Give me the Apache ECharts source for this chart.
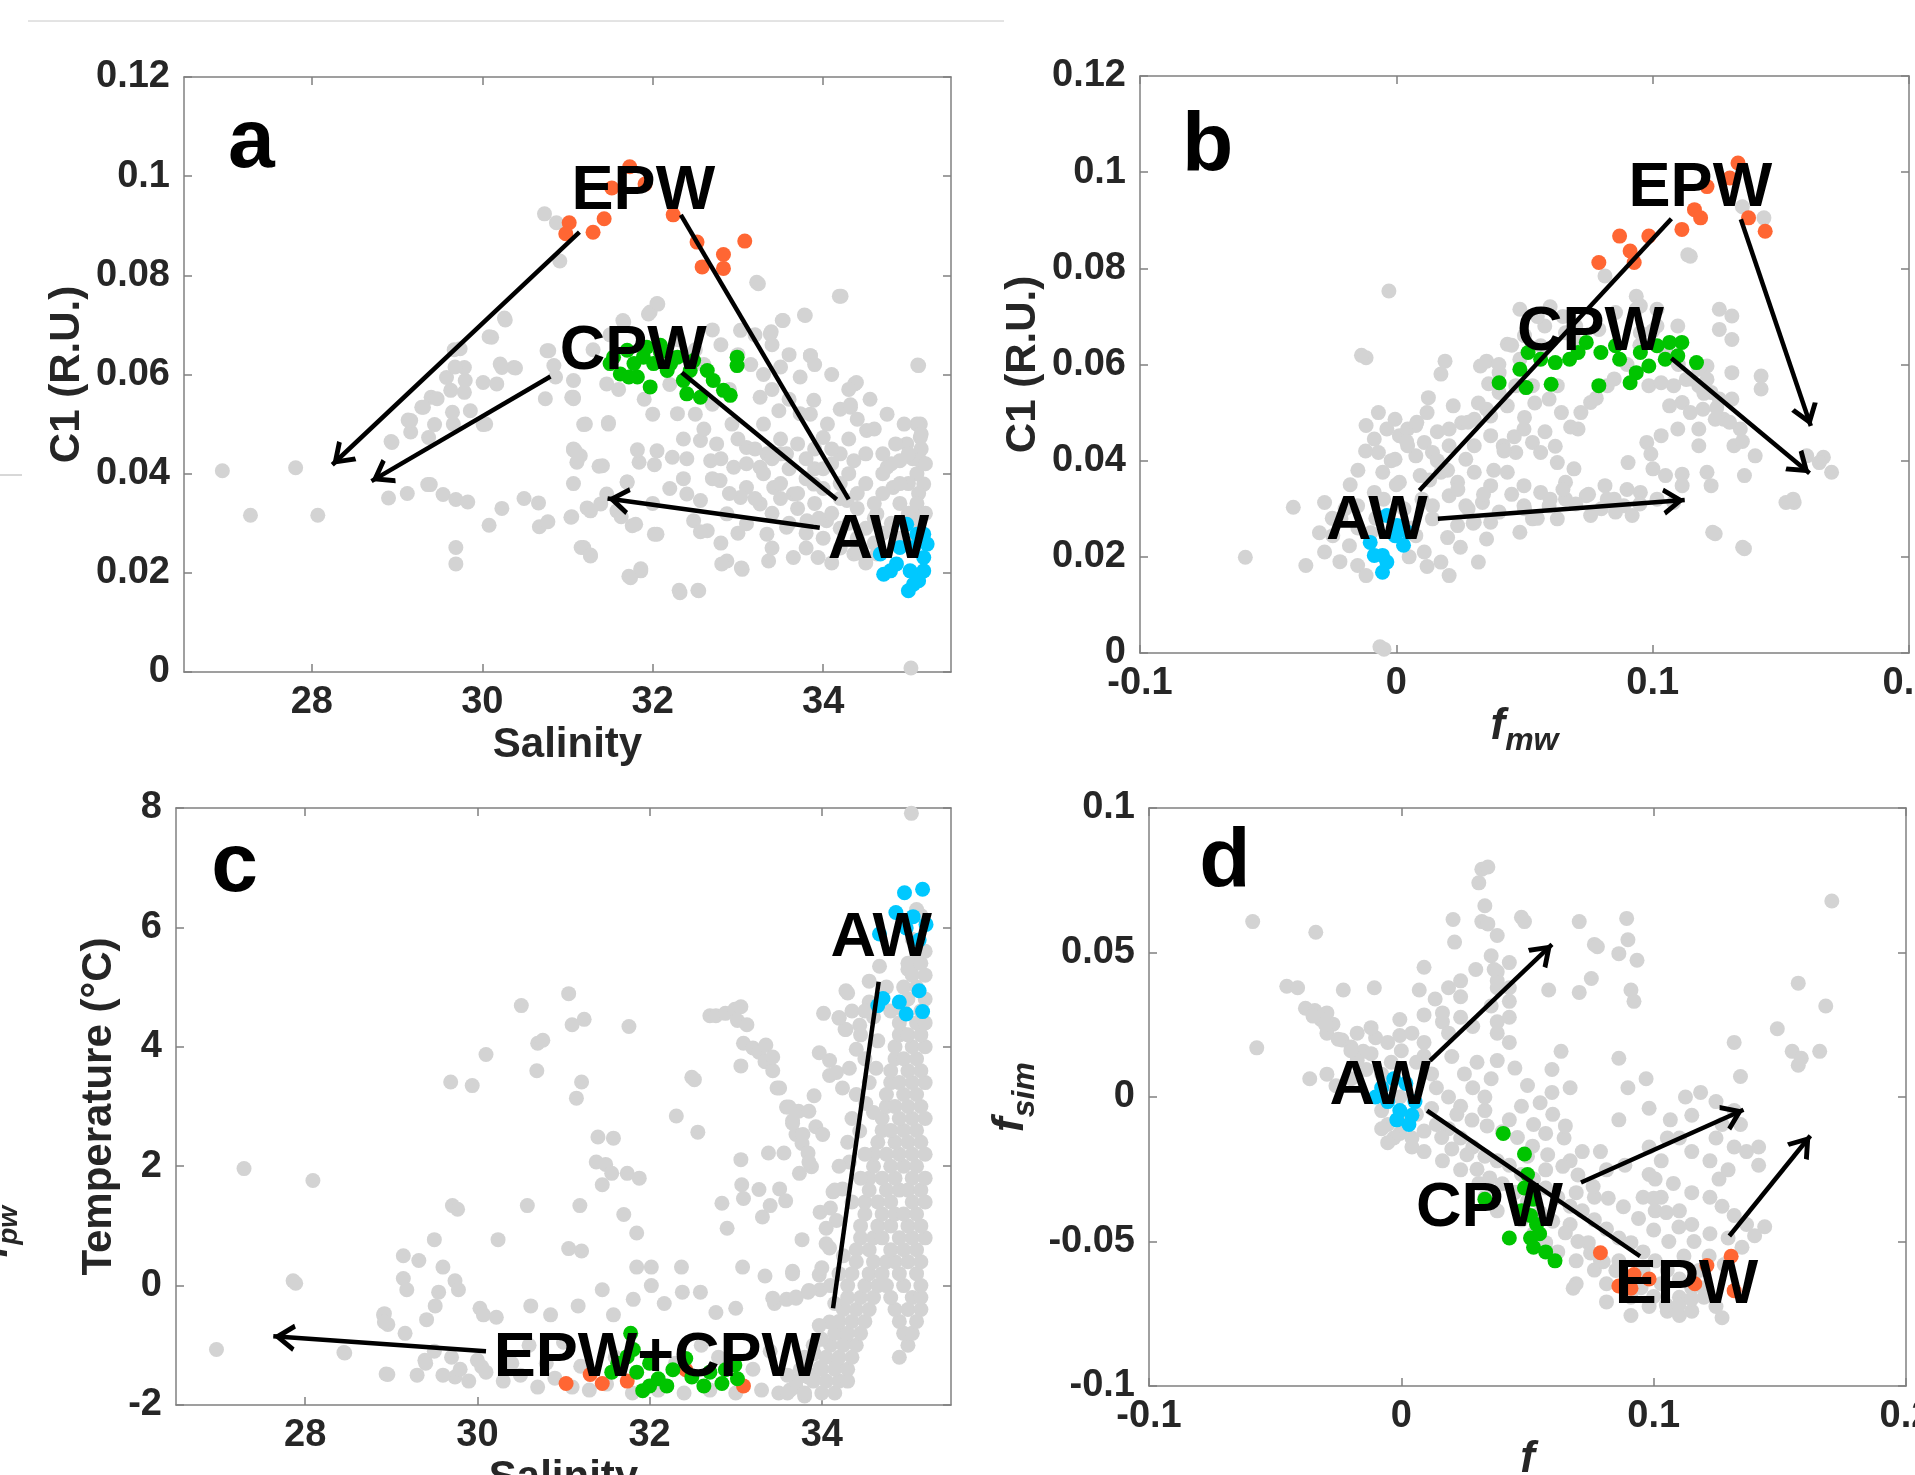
<!DOCTYPE html>
<html><head><meta charset="utf-8">
<script src="https://cdn.jsdelivr.net/npm/echarts@6.0.0/dist/echarts.min.js"></script>
<style>html,body{margin:0;padding:0;background:#fff}#c{width:1915px;height:1475px}</style>
</head><body><div id="c"></div>
<script>
// ---------------- DATA ----------------
// Panel a: Salinity vs C1
const aXTicks = [28, 30, 32, 34];
const aYTicks = [0, 0.02, 0.04, 0.06, 0.08, 0.1, 0.12];
const aGray = [[33.24,0.0783],[34.21,0.0758],[32.05,0.0743],[31.97,0.0726],[33.79,0.0719],[33.52,0.0709],[31.66,0.0706],[33.38,0.0682],[33.03,0.0689],[35.12,0.0618],[33.85,0.0638],[34.37,0.0581],[33.73,0.0595],[33.5,0.0615],[31.07,0.0588],[31.07,0.0554],[31.46,0.0581],[33.26,0.0554],[33.48,0.0527],[34.32,0.0534],[33.89,0.0548],[33.73,0.0521],[32.29,0.0521],[31.21,0.05],[31.48,0.05],[32.93,0.05],[35.14,0.05],[34.51,0.0487],[34.0,0.0473],[35.14,0.0473],[32.36,0.047],[32.56,0.0467],[32.75,0.046],[34.98,0.046],[31.07,0.045],[33.1,0.0453],[33.34,0.044],[33.57,0.044],[34.2,0.044],[32.05,0.0446],[32.23,0.0433],[31.15,0.0436],[32.68,0.0426],[32.95,0.0413],[33.26,0.0413],[34.36,0.0426],[34.9,0.0426],[35.14,0.0426],[31.84,0.0423],[31.41,0.0416],[34.75,0.0413],[32.36,0.039],[31.07,0.038],[31.7,0.0383],[32.79,0.0386],[33.1,0.0372],[33.42,0.0372],[33.65,0.0359],[33.89,0.0379],[34.82,0.0372],[35.18,0.0379],[32.4,0.0359],[32.56,0.0346],[31.46,0.0359],[31.39,0.0339],[33.03,0.0352],[33.26,0.0339],[34.28,0.0346],[31.04,0.0312],[31.27,0.0325],[31.58,0.0325],[31.76,0.0295],[32.05,0.0278],[32.48,0.0305],[32.64,0.0285],[32.87,0.0319],[33.1,0.0299],[33.34,0.0278],[33.57,0.0292],[33.81,0.0305],[34.04,0.0305],[34.63,0.0319],[35.06,0.0319],[31.19,0.0251],[31.27,0.0234],[32.87,0.0224],[33.05,0.0207],[33.36,0.0224],[33.65,0.0231],[33.94,0.0231],[31.86,0.0204],[31.74,0.019],[32.32,0.016],[32.54,0.0164],[34.36,0.0238],[34.63,0.0238],
[33.2,0.045],[33.4,0.043],[33.6,0.041],[33.8,0.039],[34.0,0.037],[34.2,0.035],[34.4,0.033],[34.6,0.031],[34.8,0.03],[33.0,0.047],[33.5,0.047],[33.9,0.045],[34.1,0.042],[34.3,0.04],[34.5,0.038],[34.7,0.036],[34.9,0.034],[35.0,0.032],[35.1,0.03],[34.4,0.027],[34.6,0.026],[34.2,0.029],[33.95,0.031],[33.7,0.033],[33.5,0.035],[35.15,0.045],[35.1,0.04],[35.0,0.038],[34.8,0.042],[34.85,0.046],[34.7,0.044],[34.6,0.049],[34.4,0.051],[34.2,0.053],[34.05,0.05],[33.85,0.052],[33.6,0.055],[33.4,0.057],[33.3,0.06],[33.15,0.062],[33.0,0.064],[32.8,0.066],[32.7,0.069],[35.1,0.05],[35.15,0.048],[35.05,0.043],[35.12,0.036],[35.1,0.027],[35.05,0.025],[35.03,0.0008],
[26.95,0.0406],[27.28,0.0316],[27.81,0.0412],[28.07,0.0316],[28.9,0.0351],[29.12,0.036],[28.93,0.0465],[29.39,0.0378],[30.73,0.0924],[30.87,0.0906],[30.91,0.0829],[33.22,0.0786],[34.19,0.0758],[33.78,0.072],[32.06,0.0742],[31.95,0.0722],[31.65,0.0709],[33.53,0.0709],[33.39,0.0686],[33.85,0.0638],[35.11,0.0619],[34.39,0.0584],[34.32,0.0539],[30.26,0.0714],[30.08,0.0676],[29.67,0.065],[29.79,0.0614],[29.58,0.0594],[29.4,0.0554],[29.29,0.0534],[29.13,0.0508],[29.16,0.0484],[29.44,0.0499],[29.65,0.0524],[29.79,0.0564],[30.01,0.0584],[30.23,0.0614],[30.37,0.0614],[30.01,0.0499],[30.76,0.0648],[30.84,0.0618],[31.05,0.0554],[31.19,0.0499],[31.48,0.0503],[31.07,0.0448],[31.11,0.0423],[31.37,0.0415],[31.82,0.0448],[32.02,0.0418],[29.36,0.0378],[29.54,0.0358],[29.69,0.0348],[29.83,0.0343],[30.49,0.035],[30.66,0.0341],[30.23,0.033],[30.08,0.0296],[31.05,0.0313],[31.23,0.0331],[30.67,0.0293],[30.77,0.0303],[29.69,0.0251],[29.69,0.0218],[31.16,0.0251],[31.27,0.0236],[31.63,0.0313],[31.7,0.0383],[31.86,0.0208],[31.72,0.0193],[32.31,0.0165],[32.53,0.0165],[32.02,0.0278],[31.8,0.0298],[32.56,0.0283],[32.81,0.0218],[33.04,0.021],
[30.27,0.071],[30.11,0.0675],[29.74,0.0652],[29.68,0.0615],[30.21,0.0621],[30.39,0.0613],[30.17,0.0581],[29.8,0.0588],[29.63,0.0568],[29.47,0.0551],[29.31,0.0534],[29.16,0.0507],[29.37,0.0473],[29.66,0.05],[29.86,0.0527],[30.04,0.05],[30.78,0.0648],[30.86,0.0595],[30.74,0.0551],[31.07,0.0551],[28.94,0.0463],[31.09,0.0446],
[31.3,0.065],[31.5,0.068],[32.3,0.067],[32.5,0.065],[32.6,0.062],[32.2,0.058],[31.9,0.055],[31.6,0.057],[32.0,0.052],[32.5,0.052],
[33.1,0.042],[33.3,0.04],[33.5,0.038],[33.7,0.036],[33.9,0.034],[34.1,0.032],[34.3,0.03],[34.5,0.029],[34.7,0.028],[34.9,0.027],[33.2,0.035],[33.4,0.032],[33.6,0.03],[33.8,0.028],[34.0,0.027],[34.2,0.025],[34.4,0.024],[33.3,0.05],[33.5,0.044],[33.7,0.046],[33.9,0.041],[34.1,0.045],[34.3,0.047],[34.5,0.044],[34.7,0.04],[34.9,0.038],[35.0,0.044],[34.6,0.034],[34.4,0.036],[34.2,0.038],[34.0,0.041],[33.8,0.043],[35.1,0.034],[35.2,0.032],[35.2,0.042],[34.95,0.05],[34.75,0.052],[34.55,0.055],[34.3,0.057],[34.1,0.06],[33.9,0.062],[33.6,0.064],[33.4,0.066],[33.2,0.068],[32.9,0.057],[32.7,0.054],[32.6,0.049],[32.8,0.043],[32.4,0.043],[32.2,0.037],[32.0,0.034],[32.9,0.036],[32.7,0.039],[33.0,0.028],[32.8,0.026],[33.4,0.025],[33.8,0.025],[34.1,0.022],[34.5,0.022]];
const aOrange = [[31.73,0.1019],[31.52,0.0976],[31.91,0.0984],[31.02,0.0906],[30.98,0.0884],[31.3,0.0887],[31.43,0.0914],[32.24,0.0922],[32.52,0.0867],[32.83,0.0842],[32.83,0.0814],[32.58,0.0817],[33.08,0.0869]];
const aGreen = [[31.5,0.0622],[31.7,0.0649],[31.89,0.0635],[32.09,0.0645],[32.29,0.0635],[32.48,0.0628],[31.62,0.0601],[31.82,0.0595],[31.97,0.0575],[32.36,0.0588],[32.4,0.0561],[32.56,0.0554],[32.71,0.0588],[32.83,0.0568],[32.91,0.0558],[32.99,0.0635],[32.99,0.0618],[32.64,0.0608],[32.17,0.0608],[31.54,0.0635],[31.78,0.0622],[32.01,0.0622],[32.21,0.0622],[32.44,0.0608],[31.72,0.0595],[31.93,0.0655],[32.09,0.0659]];
const aCyan = [[34.98,0.0298],[35.18,0.0278],[35.22,0.0258],[35.18,0.0231],[35.18,0.0204],[35.02,0.0204],[35.0,0.0164],[35.06,0.0177],[34.86,0.0218],[34.71,0.0197],[34.67,0.0238],[34.9,0.0251],[35.06,0.0251],[35.1,0.0278],[34.79,0.0204],[35.12,0.0184]];
const aLabels = [['a',27.29,0.1065,84],['EPW',31.89,0.0968,63],['CPW',31.77,0.0646,63],['AW',34.65,0.0265,63]];
const aArrows = [[31.14,0.0887,28.24,0.0418,1],[30.8,0.0596,28.7,0.0385,1],[33.96,0.0291,31.47,0.035,1],[32.33,0.0922,34.3,0.0348,0],[32.34,0.0604,34.16,0.0348,0]];

// Panel b: f_mw vs C1
const bXTicks = [-0.1, 0, 0.1, 0.2];
const bYTicks = [0, 0.02, 0.04, 0.06, 0.08, 0.1, 0.12];
const bGray = [[-0.0029,0.0753],[-0.0118,0.0614],[0.019,0.0607],[0.0174,0.058],[0.0125,0.0531],[0.0328,0.0597],[0.0352,0.0607],[0.0433,0.0642],[0.0482,0.0715],[0.0222,0.0514],[0.0255,0.0479],[0.0352,0.0507],[0.0401,0.0542],[0.0531,0.0556],[0.0596,0.0528],[0.0644,0.05],[0.0628,0.0556],[0.0758,0.0521],[0.0823,0.0556],[0.0709,0.0466],[0.0936,0.0742],[0.0952,0.0722],[0.1017,0.0715],[0.1098,0.068],[0.1147,0.0825],[0.0814,0.0784],[0.126,0.0715],[0.1309,0.0701],[0.126,0.0673],[0.1309,0.0652],[0.1309,0.0583],[0.1423,0.0576],[0.1423,0.0549],[0.1212,0.0597],[0.118,0.0556],[0.126,0.0528],[0.118,0.0466],[0.1309,0.0528],[0.1342,0.0466],[0.1277,0.0486],[0.1082,0.0556],[0.1066,0.0514],[0.0985,0.0556],[0.1115,0.0521],[0.1147,0.05],[0.1033,0.0452],[0.0977,0.0438],[0.0993,0.0414],[0.0904,0.0396],[0.1001,0.0383],[0.105,0.0369],[0.1115,0.0372],[0.1212,0.0376],[0.1228,0.0348],[0.1358,0.0369],[0.1317,0.0431],[0.1601,0.041],[0.1666,0.0407],[0.1698,0.0376],[0.165,0.0396],[0.1552,0.0313],[0.152,0.0313],[0.1244,0.0248],[0.1358,0.0217],[0.0952,0.0334],[0.0887,0.0306],[0.0814,0.0348],[0.0741,0.0327],[0.066,0.0355],[0.0628,0.0396],[0.0693,0.0383],[0.0758,0.0286],[0.0628,0.0279],[0.0482,0.0251],[0.0352,0.0237],[0.032,0.0189],[0.0206,0.0161],[-0.0353,0.0182],[-0.0589,0.0199],[-0.0402,0.0303],[-0.028,0.0313],[-0.007,0.05],[-0.0037,0.0466],[0.0012,0.0452],[0.0044,0.0466],[0.0109,0.0438],[-0.007,0.0417],[-0.0005,0.0403],[0.0076,0.041],[0.0141,0.0417],[0.0206,0.0431],[0.0271,0.0403],[0.0304,0.0431],[0.0368,0.0452],[0.0417,0.0431],[0.0466,0.0417],[0.0531,0.0438],[0.0498,0.0466],[0.0563,0.0417],[-0.0053,0.0376],[0.0012,0.0355],[0.0093,0.0369],[0.0174,0.0376],[0.0239,0.0355],[0.0304,0.0376],[0.0368,0.0348],[0.0433,0.0376],[0.0498,0.0348],[0.0563,0.0334],[0.0206,0.0327],[0.0141,0.0306],[0.0271,0.0306],[0.0336,0.0313],[0.0401,0.0293],[0.0498,0.0306],[-0.0086,0.0334],[-0.0151,0.0306],[-0.0216,0.0279],[-0.0248,0.0244],[-0.0183,0.0223],[-0.0151,0.0182],[-0.0118,0.0161],[0.0076,0.0244],[0.0141,0.0279],[0.0109,0.021],[0.0239,0.0265],[0.0304,0.0272],[0.0174,0.0189],[0.0368,0.0272],[0.0531,0.0279],[0.0596,0.0306],[0.066,0.032],[0.0823,0.032],[0.0855,0.0293],[0.092,0.0286],[0.1017,0.032],[0.1082,0.0313],[0.1115,0.0348],[-0.0118,0.0473],[-0.0086,0.0445],[-0.0005,0.0486],[0.0044,0.0431],[0.0076,0.0473],[0.0206,0.0466],[0.0304,0.0486],[0.0368,0.0493],[0.0433,0.0514],[0.0466,0.0556],[0.0401,0.0583],[0.0482,0.0611],[0.0579,0.068],[0.066,0.0666],[0.079,0.0673],[0.0952,0.0666],[0.1017,0.068],[0.0936,0.0715],[0.0855,0.0708],[0.0563,0.0639],[0.0693,0.0652],[0.1033,0.0562],[0.1131,0.0569],[0.118,0.059],[0.1212,0.0569],[0.1228,0.0542],[0.1196,0.0507],[0.1244,0.0486],[0.118,0.0431],[0.1098,0.0466],[-0.0064,0.0013],[-0.0048,0.0008],[0.1137,0.0828],[0.1434,0.0905],[0.135,0.0928],[0.1548,0.032],[0.1234,0.0251],[0.1351,0.022],[-0.0136,0.0619],
[-0.012,0.042],[-0.015,0.038],[-0.018,0.035],[-0.02,0.03],[-0.025,0.028],[-0.03,0.025],[-0.028,0.021],[-0.022,0.019],[-0.008,0.028],[-0.005,0.032],[0.0,0.035],[0.003,0.03],[0.006,0.026],[0.01,0.032],[0.013,0.036],[0.016,0.04],[0.02,0.038],[0.024,0.034],[0.028,0.03],[0.03,0.027],[0.034,0.033],[0.038,0.038],[0.042,0.042],[0.046,0.045],[0.05,0.049],[0.054,0.052],[0.045,0.033],[0.05,0.03],[0.055,0.028],[0.06,0.032],[0.065,0.034],[0.07,0.031],[0.075,0.033],[0.08,0.03],[0.085,0.032],[0.09,0.034],[0.095,0.031],[0.058,0.046],[0.062,0.043],[0.068,0.047],[0.072,0.05],[0.078,0.053],[0.085,0.057],[0.09,0.06],[0.095,0.064],[0.1,0.067],[0.105,0.063],[0.11,0.06],[0.115,0.057],[0.12,0.054],[0.125,0.051],[0.13,0.048],[0.135,0.044],[0.14,0.041],[0.028,0.048],[0.032,0.052],[0.036,0.056],[0.04,0.06],[0.045,0.064],[0.05,0.066],[0.055,0.07],[0.06,0.072],[0.065,0.07],[0.07,0.068],[-0.002,0.04],[0.004,0.044],[0.008,0.048],[0.012,0.05],[0.016,0.046],[0.02,0.024],[0.025,0.022],[0.012,0.018],[0.005,0.02],[-0.01,0.025],[-0.015,0.026]];
const bOrange = [[0.1333,0.1019],[0.1301,0.0988],[0.1212,0.097],[0.1163,0.0922],[0.1187,0.0905],[0.1114,0.0881],[0.0985,0.0867],[0.0871,0.0867],[0.0912,0.0836],[0.0928,0.0812],[0.079,0.0812],[0.1374,0.0905],[0.1439,0.0877]];
const bGreen = [[0.0401,0.0562],[0.0482,0.059],[0.0514,0.0625],[0.0506,0.0552],[0.0604,0.0559],[0.062,0.0604],[0.0676,0.0611],[0.0741,0.0646],[0.079,0.0556],[0.0798,0.0625],[0.0855,0.0639],[0.0912,0.0562],[0.0936,0.0583],[0.0952,0.0625],[0.0985,0.0597],[0.1017,0.0639],[0.1066,0.0646],[0.1114,0.0646],[0.1098,0.0618],[0.1171,0.0604],[0.1049,0.0611],[0.0871,0.0611],[0.0709,0.0625],[0.0563,0.0611]];
const bCyan = [[-0.0037,0.0286],[-0.0005,0.0244],[-0.0054,0.0203],[-0.0054,0.0168],[-0.0037,0.0189],[0.0028,0.0224],[-0.0086,0.0203],[0.0003,0.0265],[0.0044,0.0251],[-0.0102,0.023]];
const bLabels = [['b',-0.0736,0.1051,84],['EPW',0.1186,0.0966,63],['CPW',0.0757,0.0666,63],['AW',-0.0076,0.0274,63]];
const bArrows = [[0.009,0.0338,0.1073,0.0903,0],[0.0162,0.0279,0.1125,0.0318,1],[0.1344,0.0902,0.1617,0.0472,1],[0.1073,0.0613,0.1612,0.0374,1]];

// Panel c: Salinity vs Temperature
const cXTicks = [28, 30, 32, 34];
const cYTicks = [-2, 0, 2, 4, 6, 8];
const cGray = [[26.97,-1.07],[27.29,1.96],[28.09,1.76],[27.86,0.08],[27.89,0.04],[28.46,-1.13],[28.96,-1.49],[29.14,0.5],[29.14,0.12],[29.18,-0.07],[28.91,-0.49],[28.96,-0.65],[29.32,0.42],[29.5,0.77],[29.6,0.31],[29.41,-0.57],[29.51,-0.34],[29.69,3.41],[29.94,3.35],[29.71,1.34],[29.77,1.28],[29.74,0.08],[29.78,-0.07],[29.55,-0.11],[30.03,-0.38],[30.07,-0.49],[30.24,0.77],[30.22,-0.53],[30.1,3.87],[30.51,4.69],[30.69,3.6],[30.7,4.06],[30.76,4.11],[30.58,1.34],[30.62,-0.34],[30.85,-0.49],[31.06,4.89],[31.1,4.37],[31.24,4.46],[31.15,3.14],[31.21,3.41],[31.19,1.34],[31.06,0.62],[31.21,0.58],[31.17,-0.34],[31.45,-0.07],[31.58,-0.49],[31.76,4.34],[31.4,2.49],[31.58,2.47],[31.38,2.07],[31.49,2.03],[31.56,1.88],[31.45,1.69],[31.74,1.88],[31.88,1.8],[31.7,1.19],[31.85,0.88],[31.85,0.31],[32.02,0.31],[32.02,0],[31.81,-0.23],[32.17,-0.3],[32.37,0.31],[32.38,-0.11],[32.31,2.84],[32.49,3.49],[32.52,3.45],[32.56,2.57],[32.59,-0.11],[32.7,4.52],[32.77,4.52],[32.88,4.56],[32.99,4.63],[33.06,4.67],[33.02,4.44],[33.13,4.37],[33.09,4.06],[33.2,3.98],[33.27,3.91],[33.34,3.75],[33.43,3.6],[33.48,3.31],[33.06,3.68],[32.84,1.38],[32.9,0.96],[33.06,2.11],[33.07,1.69],[33.09,1.46],[33.08,0.31],[33.0,-0.38],[32.77,-0.45],[33.27,1.61],[33.31,1.15],[33.34,0.16],[33.4,1.34],[33.38,2.22],[33.56,2.22],[33.45,-0.3],[33.59,-0.23],[33.7,-0.19],[33.84,-0.11],[33.98,-0.07],[33.66,0.2],[33.59,2.99],[33.66,2.76],[33.7,2.53],[33.77,2.38],[33.84,2.22],[33.73,2.92],[33.88,1.99],[33.91,3.18],[33.77,0.77],[33.98,1.23],[34.02,4.56],[34.09,3.52],[34.13,1.57],[34.2,4.48],[34.27,4.29],[34.3,4.9],[34.09,-0.61],[34.2,-0.76],[34.27,-0.91],[33.91,-1.14],[33.98,-1.37],[33.84,-1.53],[33.7,-1.6],[33.63,-1.75],
[35.04,7.91],[35.1,6.3],[35.1,5.4],[35.0,5.3],[34.67,5.35],[34.28,4.94],[33.35,4.03],[33.43,3.83],[33.51,3.31],[33.62,2.99],[33.66,2.72],[33.78,2.53],[33.85,2.92],[33.93,2.66],[34.01,2.53],[33.85,2.07],[33.74,1.88],[33.51,1.62],[33.58,1.42],[33.66,0.24],[33.43,-0.21],[33.7,-0.21],[33.85,-0.08],[33.97,0.18],[34.09,0.63],[34.17,1.09],[34.24,1.62],[34.32,2.07],[34.44,2.59],[34.51,3.05],[34.63,3.64],[34.4,3.96],[34.32,3.64],[34.24,3.31],[34.17,3.57],[34.09,3.77],[33.97,3.9],[34.28,4.29],[34.2,4.49],[34.55,4.75],[34.44,4.36],[34.94,4.22],[34.05,0.96],[34.24,-0.34],[33.97,-0.67],[34.17,-1.32],
[29.16,-0.8],[29.39,-1.25],[29.74,-1.53],[30.05,-1.36],[30.37,-1.3],[28.45,-1.12],[28.94,-1.48],[28.92,-0.47],[28.92,-0.61],
[29.4,-1.3],[29.6,-1.5],[29.8,-1.4],[29.9,-1.6],[30.1,-1.45],[30.3,-1.6],[30.5,-1.5],[30.7,-1.7],[30.9,-1.55],[31.1,-1.7],[31.3,-1.75],[31.5,-1.65],[31.8,-1.8],[32.1,-1.75],[32.4,-1.8],[32.7,-1.75],[33.0,-1.8],[33.3,-1.75],[33.5,-1.8],[33.7,-1.7],[33.8,-1.85],[29.5,-1.1],[29.7,-1.2],[30.0,-1.25],[30.4,-1.3],[30.8,-1.3],[31.2,-1.35],[31.6,-1.2],[32.3,-1.3],[32.8,-1.2],[33.2,-1.4],[33.6,-1.5],[30.6,-1.0],[31.0,-0.95],[32.6,-1.0],[33.4,-1.1],[33.9,-1.5],[29.3,-1.5],
[33.6,-1.8],[33.8,-1.8],[34.0,-1.8],[34.15,-1.8],[33.9,-1.6],[34.05,-1.6],[34.2,-1.6],[34.3,-1.6],[34.0,-1.4],[34.15,-1.4],[34.3,-1.4],[34.05,-1.2],[34.2,-1.2],[34.35,-1.2],[34.9,-1.2],[34.1,-1.0],[34.25,-1.0],[34.4,-1.0],[35.0,-1.0],[34.15,-0.8],[34.3,-0.8],[34.45,-0.8],[34.95,-0.8],[35.05,-0.8],[34.2,-0.6],[34.35,-0.6],[34.5,-0.6],[34.9,-0.6],[35.1,-0.6],[34.25,-0.4],[34.4,-0.4],[34.55,-0.4],[34.85,-0.4],[35.0,-0.4],[35.15,-0.4],[34.3,-0.2],[34.45,-0.2],[34.6,-0.2],[34.8,-0.2],[35.05,-0.2],[35.15,-0.2],[34.3,0],[34.5,0],[34.65,0],[34.75,0],[34.95,0],[35.15,0],[34.35,0.2],[34.55,0.2],[34.7,0.2],[34.9,0.2],[35.1,0.2],[34.4,0.4],[34.6,0.4],[34.75,0.4],[34.85,0.4],[35.0,0.4],[35.15,0.4],[34.4,0.6],[34.55,0.6],[34.8,0.6],[34.95,0.6],[35.1,0.6],[34.45,0.8],[34.6,0.8],[34.7,0.8],[34.9,0.8],[35.05,0.8],[35.2,0.8],[34.45,1.0],[34.65,1.0],[34.8,1.0],[35.0,1.0],[35.15,1.0],[34.5,1.2],[34.7,1.2],[34.85,1.2],[34.95,1.2],[35.1,1.2],[34.5,1.4],[34.65,1.4],[34.8,1.4],[35.05,1.4],[35.2,1.4],[34.55,1.6],[34.75,1.6],[34.9,1.6],[35.0,1.6],[35.15,1.6],[34.55,1.8],[34.7,1.8],[34.85,1.8],[35.05,1.8],[35.2,1.8],[34.6,2.0],[34.8,2.0],[34.95,2.0],[35.1,2.0],[34.6,2.2],[34.75,2.2],[34.9,2.2],[35.05,2.2],[35.2,2.2],[34.65,2.4],[34.85,2.4],[35.0,2.4],[35.15,2.4],[34.7,2.6],[34.8,2.6],[34.95,2.6],[35.1,2.6],[34.7,2.8],[34.9,2.8],[35.05,2.8],[35.2,2.8],[34.75,3.0],[34.85,3.0],[35.0,3.0],[35.15,3.0],[34.75,3.2],[34.95,3.2],[35.1,3.2],[34.8,3.4],[34.9,3.4],[35.05,3.4],[35.2,3.4],[34.8,3.6],[35.0,3.6],[35.15,3.6],[34.85,3.8],[34.95,3.8],[35.1,3.8],[34.85,4.0],[35.05,4.0],[35.2,4.0],[34.9,4.2],[35.0,4.2],[35.15,4.2],[34.9,4.4],[35.1,4.4],[35.2,4.4],[34.95,4.6],[35.15,4.6],[35.0,4.8],[35.2,4.8],[34.95,5.0],[35.1,5.0],[35.05,5.2],[35.2,5.2],[35.0,5.4],[35.15,5.4],[35.1,5.6],[35.2,5.6],[35.05,5.8],[35.15,6.2],
[34.35,4.6],[34.45,4.2],[34.5,3.8],[34.55,3.4],[34.4,3.2],[34.35,2.8],[34.3,2.4],[34.2,2.0],[34.15,1.6],[34.1,1.3],[34.05,0.7],[34.0,0.3],[34.1,0.0],[34.15,-0.3],[34.0,-0.9],[33.9,-1.0],[33.8,-1.2],[33.75,-1.4],[34.6,4.5],[34.65,4.1],[34.5,4.6],[34.55,5.1],[34.75,5.0],[34.8,4.6],[34.6,2.9],[34.5,2.2],[34.45,1.8],[34.35,1.4],[34.25,0.5],[34.2,0.2]];
const cOrange = [[31.03,-1.64],[31.45,-1.64],[31.31,-1.49],[31.74,-1.6],[33.09,-1.68],[32.42,-1.41]];
const cGreen = [[31.78,-0.8],[31.81,-1.07],[31.63,-1.3],[31.85,-1.45],[32.0,-1.68],[31.92,-1.76],[32.1,-1.56],[32.27,-1.41],[32.42,-1.22],[32.49,-1.53],[32.7,-1.45],[32.88,-1.41],[32.99,-1.33],[33.02,-1.56],[32.84,-1.64],[31.56,-1.45],[32.2,-1.68],[32.63,-1.68],[31.74,-1.19],[32.0,-1.3]];
const cCyan = [[34.96,6.58],[35.17,6.64],[34.86,6.25],[35.06,6.18],[35.21,6.05],[34.98,5.99],[34.67,5.89],[35.13,5.79],[34.71,4.81],[34.9,4.75],[34.98,4.55],[35.13,4.94],[35.17,4.59],[34.65,4.69]];
const cLabels = [['c',27.18,6.99,84],['AW',34.69,5.81,63],['EPW+CPW',32.09,-1.23,63]];
const cArrows = [[34.66,5.09,34.13,-0.38,0],[30.1,-1.1,27.63,-0.85,1]];

// Panel d: f vs f_sim
const dXTicks = [-0.1, 0, 0.1, 0.2];
const dYTicks = [-0.1, -0.05, 0, 0.05, 0.1];
const dGray = [[-0.0589,0.0607],[-0.0339,0.057],[-0.0573,0.017],[-0.0454,0.0383],[-0.0411,0.0378],[-0.023,0.037],[-0.0107,0.0378],[-0.0363,0.0063],[-0.038,0.0307],[-0.0343,0.0299],[-0.0295,0.0291],[-0.0319,0.0268],[-0.0271,0.0252],[-0.0295,0.0221],[-0.0235,0.0197],[-0.0199,0.0173],[-0.0151,0.0158],[-0.0175,0.0126],[-0.0139,0.0095],[-0.0078,0.0079],[-0.0295,0.0079],[-0.0259,0.0039],[-0.0199,0.0063],[-0.0054,0.0047],[-0.0006,0],[-0.0175,0.0221],[-0.0102,0.0205],[-0.0054,0.0189],[-0.0006,0.0213],[0.0042,0.0221],[0.009,0.0189],[-0.0006,0.0268],[0.009,0.0284],[0.0163,0.026],[0.0187,0.0221],[0.009,0.0142],[0.009,0.0449],[0.0071,0.037],[0.0134,0.0339],[0.0187,0.0378],[0.0235,0.0402],[0.0163,0.0291],[0.0235,0.0276],[0.0283,0.0244],[0.038,0.0221],[0.0428,0.0276],[0.0356,0.0315],[0.0428,0.0331],[0.038,0.0378],[0.0319,0.0788],[0.0343,0.0796],[0.0307,0.0741],[0.0331,0.0662],[0.0319,0.0607],[0.0343,0.0599],[0.038,0.0559],[0.0356,0.0489],[0.038,0.0433],[0.038,0.0402],[0.0205,0.0614],[0.0211,0.0536],[0.0295,0.0441],[0.0235,0.0347],[0.0476,0.0622],[0.0488,0.0607],[0.0584,0.037],[0.0705,0.0607],[0.0765,0.0528],[0.0777,0.052],[0.0753,0.041],[0.0705,0.0362],[0.0893,0.0618],[0.0898,0.0544],[0.0862,0.0496],[0.0934,0.0473],[0.091,0.037],[0.0922,0.0331],[0.0428,0.0465],[0.0368,0.0441],[0.0428,0.0378],[0.038,0.026],[0.0428,0.0189],[0.038,0.0126],[0.0633,0.0158],[0.0597,0.0095],[0.0597,0.0016],[0.0669,0.0032],[0.0862,0.0134],[0.097,0.0063],[0.0898,0.0032],[0.0982,-0.0039],[0.0862,-0.0079],[0.1573,0.0394],[0.1682,0.0315],[0.149,0.0236],[0.1319,0.0189],[0.1549,0.0158],[0.1585,0.0134],[0.1573,0.011],[0.1658,0.0158],[0.1706,0.0678],[0.1344,0.0071],[0.1186,0.0016],[0.1126,0],[0.1247,-0.0016],[0.1319,-0.0047],[0.1344,-0.0095],[0.1271,-0.0095],[0.1151,-0.0063],[0.1066,-0.0079],[0.1054,-0.0142],[0.1247,-0.0142],[0.1319,-0.0173],[0.1368,-0.0189],[0.1416,-0.0173],[0.1416,-0.0236],[0.1295,-0.0252],[0.1259,-0.0284],[0.1223,-0.0221],[0.1151,-0.0189],[0.1102,-0.0142],
[-0.0054,-0.0095],[-0.0006,-0.0126],[0.0042,-0.0142],[0.009,-0.0118],[0.0139,-0.0095],[0.0187,-0.011],[0.0235,-0.0142],[0.0283,-0.0173],[0.0331,-0.0205],[0.038,-0.0221],[0.0428,-0.0236],[0.0476,-0.0268],[0.0524,-0.0284],[0.0572,-0.0315],[0.062,-0.0347],[0.0669,-0.0378],[0.0717,-0.0394],[0.0765,-0.0425],[0.0813,-0.0457],[0.0862,-0.0488],[0.091,-0.0504],[0.0958,-0.0536],[0.1006,-0.0567],[0.1054,-0.0599],[0.1102,-0.063],[0.1151,-0.0662],[0.1199,-0.0693],[0.1247,-0.0725],[0.1054,-0.0741],[0.091,-0.0693],[0.0813,-0.0646],[0.0765,-0.0599],[0.0693,-0.0567],[0.062,-0.0536],[0.0572,-0.0504],[0.0524,-0.0473],[0.0476,-0.0425],[0.038,-0.0394],[0.0331,-0.0347],[0.0307,-0.0299],[0.0235,-0.0252],[0.0163,-0.0221],[0.009,-0.0189],[0.0042,-0.0173],[-0.003,-0.0142],[-0.0078,-0.011],
[0.0669,-0.0441],[0.0741,-0.0504],[0.0862,-0.0567],[0.0958,-0.0599],[0.103,-0.0646],[0.1102,-0.0693],[0.0982,-0.0725],[0.1102,-0.0756],[0.091,-0.0756],[0.0813,-0.0709],[0.0693,-0.0646],[0.0681,-0.0662],[0.1271,-0.0764],[0.1151,-0.0741],[0.0789,-0.0567],[0.1295,-0.0488],[0.1368,-0.0441],[0.144,-0.0449],[0.1319,-0.041],[0.1271,-0.0378],[0.1223,-0.0347],[0.1151,-0.0331],[0.1078,-0.0299],[0.1006,-0.0284],[0.103,-0.0347],[0.1102,-0.0394],[0.1151,-0.0441],[0.1223,-0.0473],[0.1006,-0.0394],[0.0958,-0.0347],[0.0886,-0.0236],[0.0789,-0.0189],[0.0717,-0.0189],[0.0669,-0.0221],[0.0813,-0.0252],[0.0645,-0.0142],[0.0982,-0.0173],[0.103,-0.0221],[0.0982,-0.0268],[0.0572,-0.0252],[0.05,-0.0205],[0.0572,-0.0126],[0.0428,-0.0079],[0.0331,-0.0047],[0.0235,-0.0032],[0.0187,0],[0.0139,0.0032],[0.0283,0.0032],[0.0356,0.0063],[0.0331,0],[0.0476,-0.0032],[0.0524,-0.0095],[0.0693,-0.0331],[0.0765,-0.0347],[-0.0054,-0.0158],[-0.0078,-0.0047],
[0.0,-0.008],[0.006,-0.006],[0.012,-0.004],[0.016,-0.014],[0.02,-0.018],[0.026,-0.02],[0.03,-0.025],[0.035,-0.028],[0.04,-0.03],[0.045,-0.033],[0.05,-0.036],[0.055,-0.04],[0.06,-0.043],[0.065,-0.047],[0.07,-0.05],[0.075,-0.054],[0.08,-0.057],[0.085,-0.06],[0.09,-0.063],[0.095,-0.066],[0.1,-0.069],[0.105,-0.072],[0.11,-0.072],[0.115,-0.07],[0.12,-0.066],[0.118,-0.06],[0.112,-0.055],[0.106,-0.05],[0.1,-0.046],[0.094,-0.042],[0.088,-0.038],[0.082,-0.035],[0.076,-0.031],[0.07,-0.027],[0.064,-0.024],[0.058,-0.02],[0.052,-0.017],[0.046,-0.014],[0.04,-0.012],[0.034,-0.01],[0.028,-0.008],[0.022,-0.006],[0.012,0.008],[0.006,0.012],[-0.004,0.012],[-0.012,0.015],[-0.02,0.016],[-0.025,0.02],[-0.03,0.025],[-0.035,0.028],[-0.012,0.024],[0.0,0.016],[0.03,0.012],[0.025,0.008],[0.02,0.014],[0.045,0.01],[0.05,0.004],[0.055,-0.002],[0.06,-0.006],[0.065,-0.01],[0.1,-0.035],[0.105,-0.04],[0.11,-0.045],[0.116,-0.05],[0.122,-0.055],[0.128,-0.058],[0.135,-0.052],[0.14,-0.048]];
const dOrange = [[0.0789,-0.0539],[0.0862,-0.0654],[0.0922,-0.0614],[0.0982,-0.063],[0.1211,-0.0583],[0.1307,-0.0551],[0.1163,-0.0646],[0.1319,-0.067],[0.091,-0.0662]];
const dGreen = [[0.0404,-0.0126],[0.0488,-0.0197],[0.05,-0.0268],[0.0488,-0.0315],[0.0524,-0.0354],[0.0331,-0.0354],[0.0512,-0.041],[0.0536,-0.0441],[0.0512,-0.0488],[0.0524,-0.052],[0.0572,-0.0536],[0.0609,-0.0567],[0.0428,-0.0488],[0.0548,-0.0473],[0.0476,-0.0394]];
const dCyan = [[-0.0078,0.0032],[-0.003,0.0063],[0.0018,0.0047],[-0.0054,-0.0016],[-0.0006,-0.0047],[0.0042,-0.0063],[0.003,-0.0095],[-0.0102,0],[0.0054,-0.0016],[-0.0018,-0.0079]];
const dLabels = [['d',-0.0699,0.0807,84],['AW',-0.0084,0.0036,63],['CPW',0.0349,-0.0386,63],['EPW',0.113,-0.0654,63]];
const dArrows = [[0.0114,0.0126,0.0597,0.0528,1],[0.0102,-0.0047,0.0946,-0.0551,0],[0.0712,-0.0296,0.1356,-0.0044,1],[0.13,-0.0481,0.1621,-0.0134,1]];

// ---------------- STYLE ----------------
const FONT = '"Liberation Sans", Arial, Helvetica, sans-serif';
const AXC = '#808080';
const TXT = '#262626';
const COL = {gray:'#d3d3d3', orange:'#ff6633', green:'#00c400', cyan:'#00c8ff'};
const ARROW = 'path://M10,0 L10.05,0.05 L9.95,0.05 Z M10,15.5 L20,29.5 L16.8,31 L10,21.5 L3.2,31 L0,29.5 Z';
const DOT = 15;

const fmt = v => String(Math.round(v * 10000) / 10000);

const grids = [
  {left:184, top:77, width:767, height:595},
  {left:1140, top:76, width:769, height:577},
  {left:176, top:808, width:775, height:597},
  {left:1149, top:808, width:757, height:578}
].map(g => Object.assign({containLabel:false, outerBoundsMode:'none'}, g));

const tickStyle = {color:AXC, width:1.5};
function axisPair(dim, gi, min, max, ticks, name, gap, nameStyle) {
  const main = {
    type:'value', gridIndex:gi, min:min, max:max,
    position: dim === 'x' ? 'bottom' : 'left',
    axisLine:{show:true, onZero:false, lineStyle:{color:AXC, width:1.5}},
    axisTick:{show:true, inside:true, length:8, customValues:ticks, lineStyle:tickStyle},
    axisLabel:{show:true, customValues:ticks, formatter:fmt, margin: dim === 'x' ? 12 : 14,
      color:TXT, fontSize:38, fontWeight:'bold', fontFamily:FONT},
    splitLine:{show:false},
    name:name, nameLocation:'middle', nameGap:gap, nameMoveOverlap:false,
    nameTextStyle:Object.assign({color:TXT, fontSize:42, fontWeight:'bold', fontFamily:FONT}, nameStyle || {})
  };
  const mirror = {
    type:'value', gridIndex:gi, min:min, max:max,
    position: dim === 'x' ? 'top' : 'right',
    axisLine:{show:true, onZero:false, lineStyle:{color:AXC, width:1.5}},
    axisTick:{show:true, inside:true, length:8, customValues:ticks, lineStyle:tickStyle},
    axisLabel:{show:false}, splitLine:{show:false}
  };
  return [main, mirror];
}

const subRich = (fs1, fs2, pad) => ({
  rich:{
    i:{fontStyle:'italic', fontWeight:'bold', fontSize:fs1, fontFamily:FONT, color:TXT},
    s:{fontStyle:'italic', fontWeight:'bold', fontSize:fs2, fontFamily:FONT, color:TXT, padding:[pad,0,0,0]}
  }
});

const xAxis = [].concat(
  axisPair('x', 0, 26.5, 35.5, aXTicks, 'Salinity', 52),
  axisPair('x', 1, -0.1, 0.2, bXTicks, '{i|f}{s|mw}', 44, subRich(44, 32, 28)),
  axisPair('x', 2, 26.5, 35.5, cXTicks, 'Salinity', 52),
  axisPair('x', 3, -0.1, 0.2, dXTicks, '{i|f}', 52, subRich(44, 32, 28))
);
const yAxis = [].concat(
  axisPair('y', 0, 0, 0.12, aYTicks, 'C1 (R.U.)', 96),
  axisPair('y', 1, 0, 0.12, bYTicks, 'C1 (R.U.)', 96),
  axisPair('y', 2, -2, 8, cYTicks, 'Temperature (°C)', 56),
  axisPair('y', 3, -0.1, 0.1, dYTicks, '{i|f}{s|sim}', 108, subRich(44, 32, 28))
);

function labelsMP(list) {
  return {
    silent:true, animation:false, symbol:'circle', symbolSize:1,
    itemStyle:{color:'rgba(0,0,0,0)'},
    data:list.map(l => ({
      name:l[0], coord:[l[1], l[2]],
      label:{show:true, position:'inside', formatter:l[0], fontSize:l[3], fontWeight:'bold',
        color:'#000', fontFamily:FONT}
    }))
  };
}
function arrowsML(list) {
  return {
    silent:true, animation:false, symbolSize:[28, 44],
    label:{show:false}, emphasis:{disabled:true},
    lineStyle:{color:'#000', width:4.5, type:'solid', opacity:1},
    data:list.map(a => [
      {coord:[a[0], a[1]], symbol:'none'},
      {coord:[a[2], a[3]], symbol: a[4] ? ARROW : 'none'}
    ])
  };
}
function sc(gi, data, color, extra) {
  return Object.assign({
    type:'scatter', xAxisIndex:gi * 2, yAxisIndex:gi * 2, data:data,
    symbol:'circle', symbolSize:DOT, silent:true, animation:false,
    itemStyle:{color:color, opacity:1}, emphasis:{disabled:true}
  }, extra || {});
}

const panels = [
  [aGray, aOrange, aGreen, aCyan, aLabels, aArrows],
  [bGray, bOrange, bGreen, bCyan, bLabels, bArrows],
  [cGray, cOrange, cGreen, cCyan, cLabels, cArrows],
  [dGray, dOrange, dGreen, dCyan, dLabels, dArrows]
];
const series = [];
panels.forEach((p, gi) => {
  series.push(sc(gi, p[0], COL.gray));
  series.push(sc(gi, p[1], COL.orange));
  series.push(sc(gi, p[2], COL.green));
  series.push(sc(gi, p[3], COL.cyan, {markLine:arrowsML(p[5]), markPoint:labelsMP(p[4])}));
});

const chart = echarts.init(document.getElementById('c'), null, {renderer:'canvas', width:1915, height:1475});
chart.setOption({
  backgroundColor:'#ffffff',
  animation:false,
  grid:grids,
  xAxis:xAxis,
  yAxis:yAxis,
  series:series,
  graphic:[
    {type:'line', shape:{x1:28, y1:21, x2:1004, y2:21}, style:{stroke:'#c8c8c8', lineWidth:1}},
    {type:'line', shape:{x1:0, y1:475, x2:22, y2:475}, style:{stroke:'#b0b0b0', lineWidth:1}},
    {type:'text', x:-4, y:1232, rotation:Math.PI / 2,
      style:{text:'{i|f}{s|pw}', align:'center', verticalAlign:'middle',
        rich:{
          i:{fontStyle:'italic', fontWeight:'bold', fontSize:40, fontFamily:FONT, fill:TXT},
          s:{fontStyle:'italic', fontWeight:'bold', fontSize:28, fontFamily:FONT, fill:TXT, padding:[26,0,0,0]}
        }}}
  ]
});
</script></body></html>
